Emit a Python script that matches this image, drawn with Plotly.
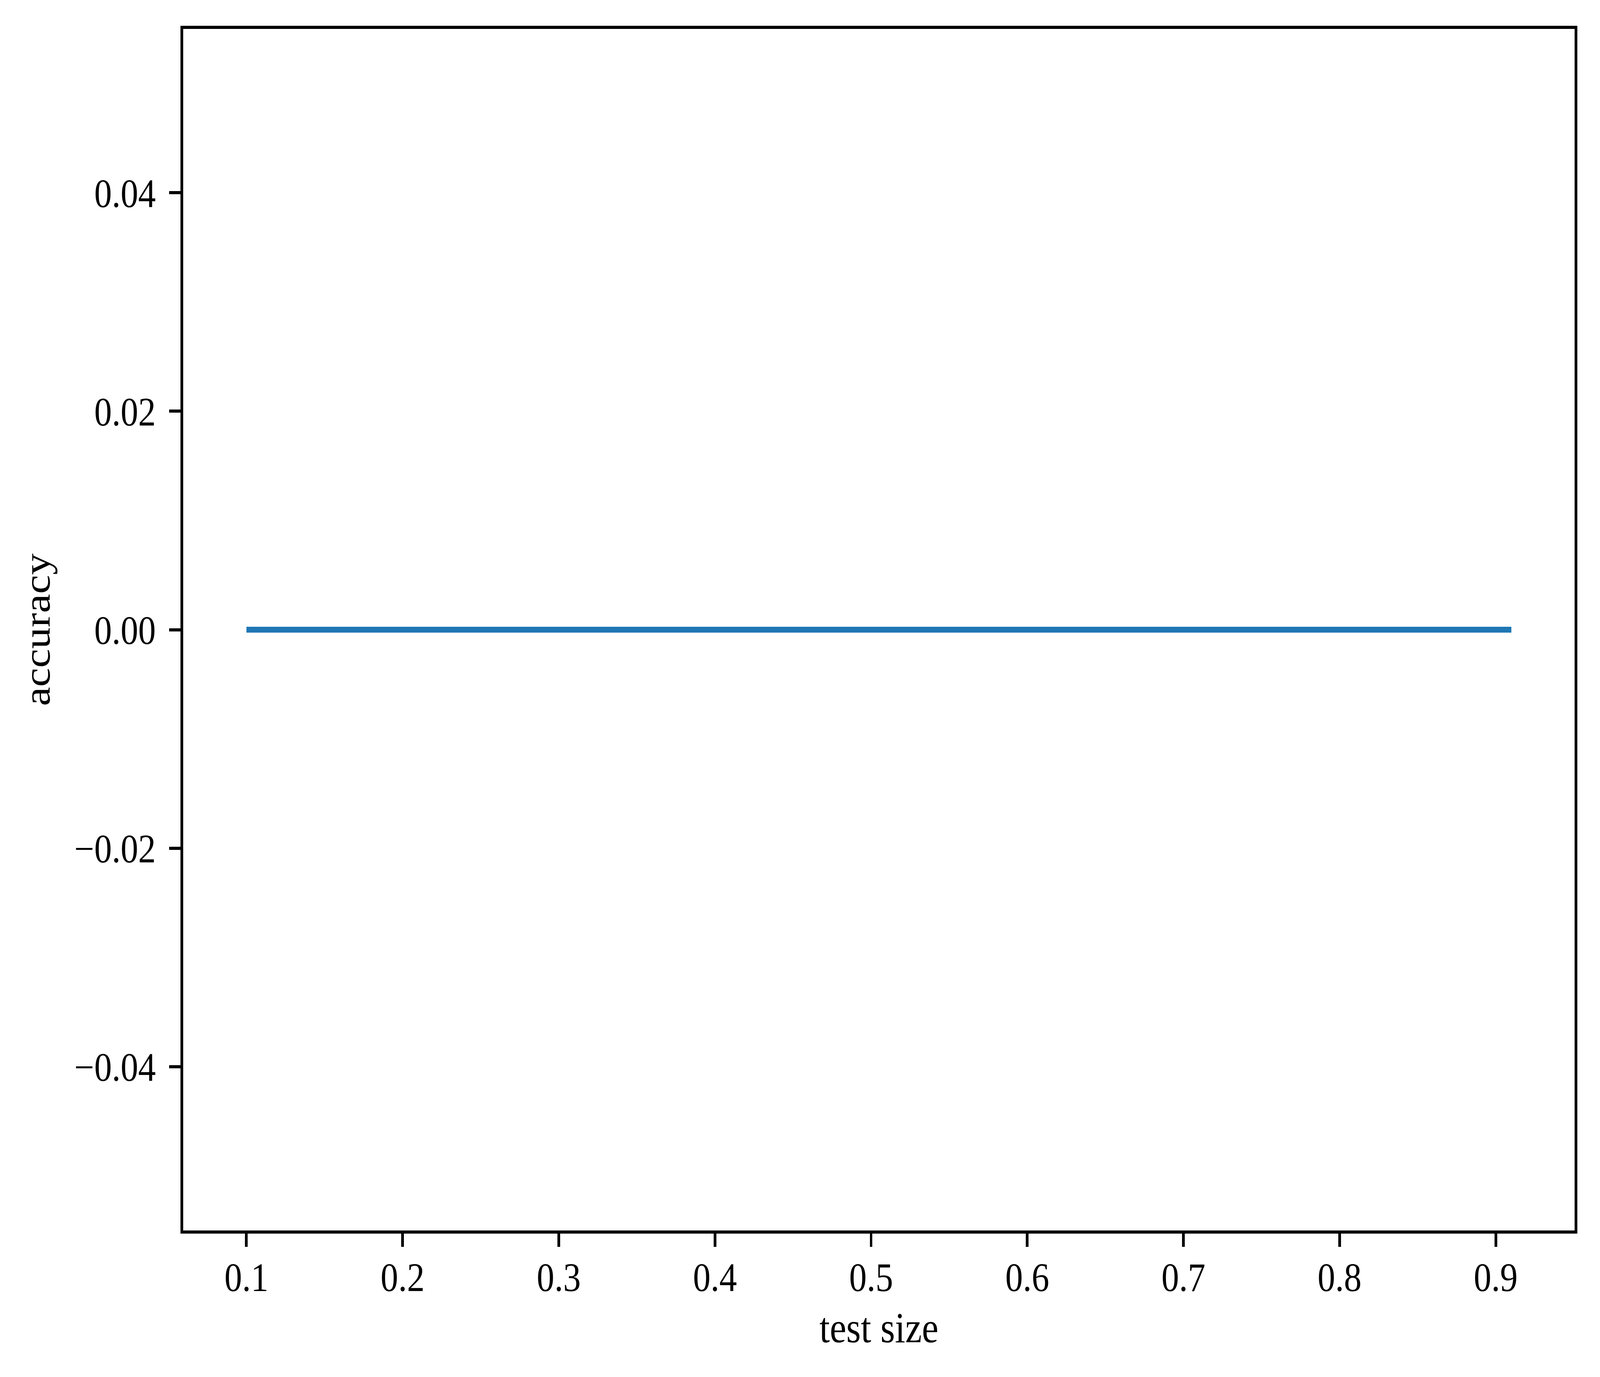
import plotly.graph_objects as go

# accuracy against test split size
test_sizes = [0.1, 0.2, 0.3, 0.4, 0.5, 0.6, 0.7, 0.8, 0.9, 0.91]
accuracy = [0.0, 0.0, 0.0, 0.0, 0.0, 0.0, 0.0, 0.0, 0.0, 0.0]

x_ticks = [0.1, 0.2, 0.3, 0.4, 0.5, 0.6, 0.7, 0.8, 0.9]
y_ticks = [-0.04, -0.02, 0.0, 0.02, 0.04]

font_name = "Liberation Serif"
W, H = 4725, 3524

fig = go.Figure()

fig.add_trace(go.Scatter(
                x=test_sizes,
                y=accuracy,
                mode="lines",
                line=dict(color="#1f77b4", width=15),
                showlegend=False))

axis_style = dict(showline=True,
                  linecolor="black",
                  linewidth=8,
                  mirror=True,
                  showgrid=False,
                  zeroline=False,
                  ticks="outside",
                  ticklen=34,
                  tickwidth=8,
                  tickcolor="black",
                  tickfont=dict(family=font_name, size=104, color="black"))

fig.update_xaxes(axis_style,
                 range=[0.0595, 0.9505],
                 tickvals=x_ticks,
                 tickformat=".1f",
                 ticklabelstandoff=-12,
                 title=dict(text="test size",
                            font=dict(family=font_name, size=110, color="black"),
                            standoff=36))

fig.update_yaxes(axis_style,
                 range=[-0.055, 0.055],
                 tickvals=y_ticks,
                 tickformat=".2f",
                 ticklabelstandoff=18,
                 title=dict(text="accuracy",
                            font=dict(family=font_name, size=110, color="black"),
                            standoff=38))

fig.update_layout(width=W,
                  height=H,
                  margin=dict(l=541, r=75, t=74, b=375),
                  plot_bgcolor="white",
                  paper_bgcolor="white")

# shrink the page to the window if the window is smaller than the figure
fit_js = """
document.body.style.margin = '0';
var gd = document.getElementById('{plot_id}');
var fx = Math.min(1, window.innerWidth / %d);
var fy = Math.min(1, window.innerHeight / %d);
if (fx < 1 || fy < 1) {
    gd.style.transformOrigin = '0 0';
    gd.style.transform = 'scale(' + fx + ',' + fy + ')';
}
""" % (W, H)

fig.write_html("out.html", post_script=fit_js,
               config={"displayModeBar": False})
